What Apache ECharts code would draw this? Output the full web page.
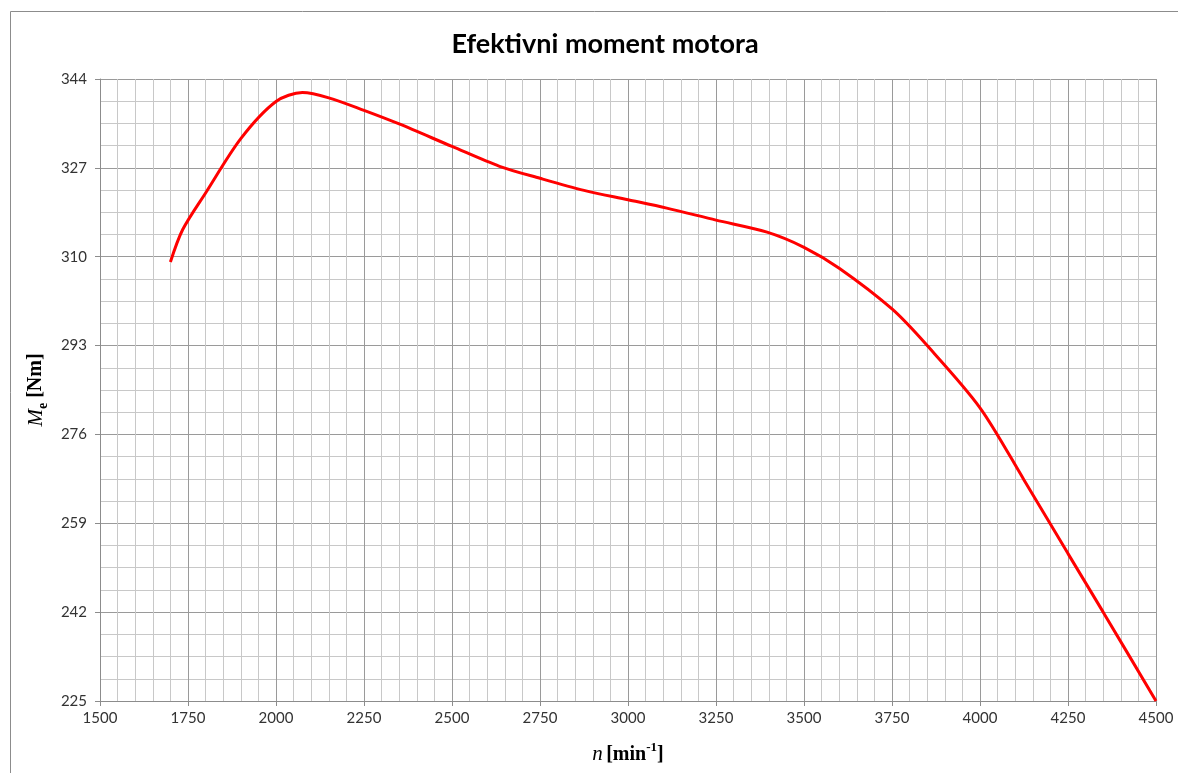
<!DOCTYPE html>
<html>
<head>
<meta charset="utf-8">
<title>Efektivni moment motora</title>
<script src="https://cdn.jsdelivr.net/npm/echarts@6/dist/echarts.min.js"></script>
<style>
  html, body { margin: 0; padding: 0; background: #fff; }
  #main { width: 1178px; height: 773px; }
</style>
</head>
<body>
<div id="main"></div>
<script>
// broj okretaja n [min^-1]
var rpm = [1700, 1735, 1800, 1900, 2000, 2075, 2150, 2250, 2350,
  2500, 2635, 2750, 2875, 3000, 3110, 3250, 3395, 3500, 3600, 3750, 3850, 4000, 4125, 4250, 4350, 4500];
// efektivni moment Me [Nm]
var torque = [309.0, 315.2, 322.2, 332.6, 339.7, 341.4, 340.4, 338.0, 335.4,
  331.1, 327.3, 325.0, 322.7, 320.9, 319.3, 317.0, 314.7, 311.8, 307.8, 300.0, 293.0, 281.1, 267.3, 253.2, 242.0, 225.0];

var xTicks = { min: 1500, max: 4500, step: 250 };
var yTicks = { min: 225, max: 344, step: 17 };

var points = [];
for (var i = 0; i < rpm.length; i++) {
  points.push([rpm[i], torque[i]]);
}

var myChart = echarts.init(document.getElementById("main"));

var option = {
  animation: false,
  backgroundColor: "#fff",
  title: {
    text: "Efektivni moment motora",
    left: 600,
    top: 26,
    textAlign: "center",
    textStyle: {
      fontFamily: "Lato",
      fontWeight: "bold",
      fontSize: 27,
      color: "#000"
    }
  },
  graphic: [
    {
      type: "rect",
      shape: { x: 10.5, y: 11.5, width: 1200, height: 800 },
      style: { fill: "none", stroke: "#8c8c8c", lineWidth: 1 },
      silent: true
    }
  ],
  grid: { left: 100, right: 22, top: 79, bottom: 72 },
  xAxis: {
    type: "value",
    min: xTicks.min,
    max: xTicks.max,
    interval: xTicks.step,
    name: "{n|n} {b|[min}{s|-1}{b|]}",
    nameLocation: "middle",
    nameGap: 40,
    nameTextStyle: {
      rich: {
        n: { fontFamily: "Liberation Serif", fontStyle: "italic", fontSize: 21, color: "#000", verticalAlign: "bottom", lineHeight: 24 },
        b: { fontFamily: "Liberation Serif", fontWeight: "bold", fontSize: 20, color: "#000", verticalAlign: "bottom", lineHeight: 24 },
        s: { fontFamily: "Liberation Serif", fontWeight: "bold", fontSize: 13, color: "#000", verticalAlign: "top", lineHeight: 24 }
      }
    },
    axisLine: { show: true, lineStyle: { color: "#8c8c8c", width: 1 } },
    axisTick: { show: true, length: 5, lineStyle: { color: "#8c8c8c" } },
    axisLabel: {
      fontFamily: "Lato", fontSize: 15, color: "#333", margin: 10,
      formatter: function (v) { return String(v); }
    },
    splitLine: { show: true, lineStyle: { color: "#9a9a9a", width: 1 } },
    minorTick: { show: false, splitNumber: 5 },
    minorSplitLine: { show: true, lineStyle: { color: "#c8c8c8", width: 1 } }
  },
  yAxis: {
    type: "value",
    min: yTicks.min,
    max: yTicks.max,
    interval: yTicks.step,
    name: "{m|M}{e|e}{b| [Nm]}",
    nameLocation: "middle",
    nameGap: 46,
    nameRotate: 90,
    nameTextStyle: {
      rich: {
        m: { fontFamily: "Liberation Serif", fontStyle: "italic", fontSize: 21, color: "#000", verticalAlign: "top", lineHeight: 24 },
        e: { fontFamily: "Liberation Serif", fontWeight: "bold", fontSize: 14, color: "#000", verticalAlign: "bottom", lineHeight: 24 },
        b: { fontFamily: "Liberation Serif", fontWeight: "bold", fontSize: 20, color: "#000", verticalAlign: "top", lineHeight: 24 }
      }
    },
    axisLine: { show: true, lineStyle: { color: "#8c8c8c", width: 1 } },
    axisTick: { show: true, length: 5, lineStyle: { color: "#8c8c8c" } },
    axisLabel: { fontFamily: "Lato", fontSize: 15, color: "#333", margin: 13 },
    splitLine: { show: true, lineStyle: { color: "#9a9a9a", width: 1 } },
    minorTick: { show: false, splitNumber: 4 },
    minorSplitLine: { show: true, lineStyle: { color: "#c8c8c8", width: 1 } }
  },
  series: [
    {
      type: "line",
      data: points,
      smooth: 0.3,
      showSymbol: false,
      lineStyle: { color: "#ff0000", width: 3 },
      z: 5
    }
  ]
};

myChart.setOption(option);
</script>
</body>
</html>
